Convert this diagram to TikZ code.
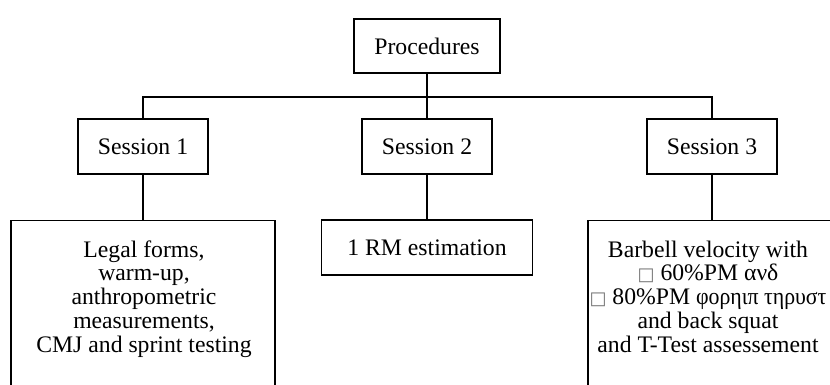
\documentclass[tikz,border=0pt]{standalone}
\usepackage{fontspec}
\setmainfont{Liberation Serif}
\newfontfamily\dejavu{DejaVu Sans}
\newcommand{\missbox}{{\dejavu\color{black!55}\fontsize{18}{18}\selectfont □}}
\begin{document}
\begin{tikzpicture}[x=1pt,y=-1pt,
  every node/.style={font=\fontsize{23.7}{24}\selectfont},
  box/.style={draw, line width=1.3pt, inner sep=0pt, fill=white},
  link/.style={line width=1.4pt}]
\useasboundingbox (0,0) rectangle (830,385);
\begin{scope}
\clip (0,0) rectangle (830,385);
% top level
\node[box, minimum width=146, minimum height=54] (proc) at (427,46) {Procedures};
% sessions
\node[box, minimum width=130, minimum height=55] (s1) at (143,146.5) {Session 1};
\node[box, minimum width=130, minimum height=55] (s2) at (427,146.5) {Session 2};
\node[box, minimum width=130, minimum height=55] (s3) at (712,146.5) {Session 3};
% details
\node[box, anchor=north, minimum width=264, minimum height=200] (b1) at (143,220) {};
\node[box, minimum width=211, minimum height=55] (b2) at (427,247.5) {1 RM estimation};
\node[box, anchor=north, minimum width=248, minimum height=200] (b3) at (712,220) {};
\node[anchor=base, inner sep=0pt] (t1) at (144,257) {\parbox[t]{260pt}{\centering\baselineskip=23.8pt
Legal forms,\\ warm-up,\\ anthropometric\\ measurements,\\ CMJ and sprint testing}};
\node[anchor=base, inner sep=0pt] (t3) at (708,257) {\parbox[t]{244pt}{\centering\baselineskip=23.8pt
Barbell velocity with\\
\missbox\ 60\%ΡΜ ανδ\\
\missbox\ 80\%ΡΜ \scalebox{0.92}[1]{φορηιπ τηρυστ}\\
and back squat\\ and T-Test assessement}};
% connectors
\coordinate (hm) at (427,97);
\draw[link] (proc.south) -- (s2.north);
\draw[link] (s1.north) |- (hm) -| (s3.north);
\draw[link] (s1.south) -- (b1.north);
\draw[link] (s2.south) -- (b2.north);
\draw[link] (s3.south) -- (b3.north);
\end{scope}
\end{tikzpicture}
\end{document}
